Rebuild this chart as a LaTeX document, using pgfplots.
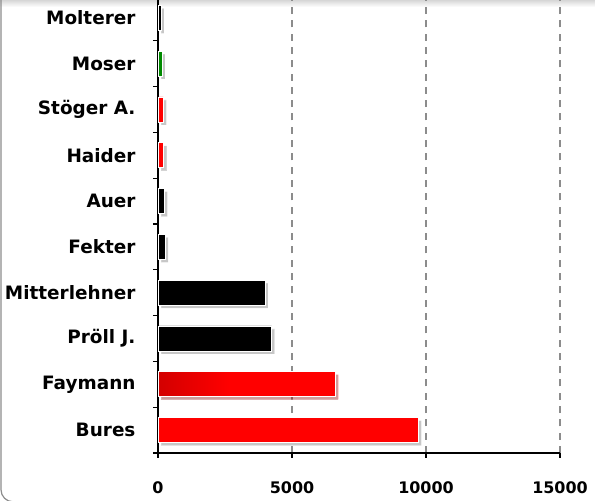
\documentclass[border=0pt]{standalone}
\usepackage{pgfplots}
\pgfplotsset{compat=1.18}
\usepackage{fontspec}
\setmainfont{DejaVu Sans}
\usetikzlibrary{shadows}
\definecolor{barred}{HTML}{FF0000}
\definecolor{bargreen}{HTML}{008A00}
\pgfdeclarehorizontalshading{faygrad}{100bp}{color(0bp)=(red!62!black); color(22bp)=(red!80!black); color(45bp)=(barred); color(100bp)=(barred)}
\begin{document}
\begin{tikzpicture}
\useasboundingbox (0,0) rectangle (595bp,501bp);
\clip (0,0) rectangle (595bp,501bp);
\shade[top color=black!16, bottom color=white] (0,494bp) rectangle (595bp,501bp);
\draw[black!45, line width=1.2bp, rounded corners=12bp] (1bp,520bp) -- (1bp,-0.8bp) -- (700bp,-0.8bp);
\begin{axis}[
  at={(158bp,48bp)}, anchor=south west, scale only axis,
  width=402bp, height=458bp,
  xmin=0, xmax=15000, ymin=-0.5, ymax=9.5,
  axis lines=left,
  axis line style={-, black, line width=1.6bp},
  xtick={0,5000,10000,15000},
  xticklabels={0,5000,10000,15000},
  ytick={-0.5,0.5,...,8.5},
  yticklabels={Bures,Faymann,Pröll J.,Mitterlehner,Fekter,Auer,Haider,Stöger A.,Moser,Molterer},
  yticklabel style={yshift=22.9bp, xshift=-14bp, font=\bfseries\fontsize{18.5}{18.5}\selectfont},
  xticklabel style={yshift=-20bp, font=\bfseries\fontsize{16}{16}\selectfont},
  tick align=outside, major tick length=5bp,
  tick style={black, line width=1.3bp},
  xmajorgrids,
  x grid style={black!45, line width=1.2bp, dash pattern=on 7bp off 6.3bp},
  xbar, bar width=25bp,
  every axis plot/.append style={bar shift=0pt, draw=white, line width=0.8bp,
    drop shadow={shadow xshift=3bp, shadow yshift=-3bp, fill=black, opacity=0.22}},
]
\addplot[fill=barred] coordinates {(9720,0) (220,6) (200,7)};
\addplot[shading=faygrad] coordinates {(6620,1)};
\addplot[fill=black] coordinates {(4240,2) (3990,3) (270,4) (240,5) (110,9)};
\addplot[fill=bargreen] coordinates {(160,8)};
\end{axis}
\end{tikzpicture}
\end{document}
